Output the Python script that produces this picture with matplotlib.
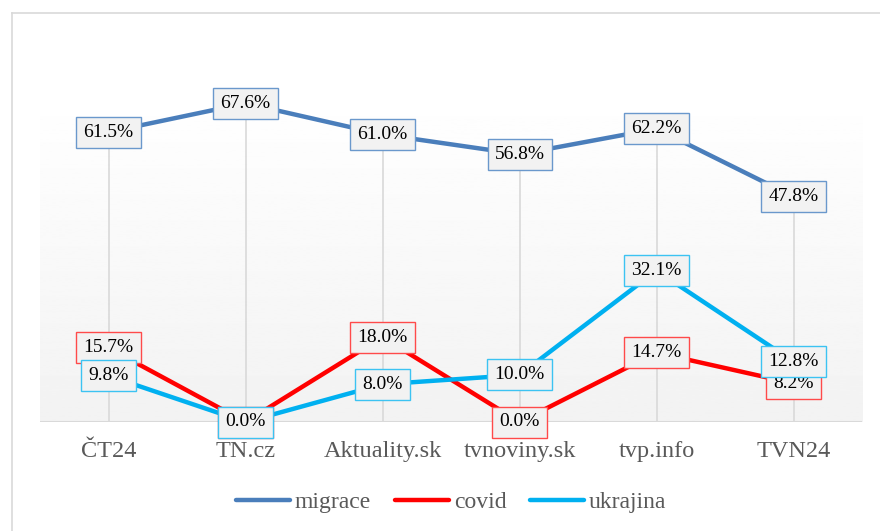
import numpy as np
import matplotlib
matplotlib.use("Agg")
import matplotlib.pyplot as plt
from matplotlib.lines import Line2D

plt.rcParams['font.family'] = ['Liberation Serif', 'DejaVu Serif']

# data
kategorie = ["ČT24", "TN.cz", "Aktuality.sk", "tvnoviny.sk", "tvp.info", "TVN24"]
migrace = [61.5, 67.6, 61.0, 56.8, 62.2, 47.8]
covid = [15.7, 0.0, 18.0, 0.0, 14.7, 8.2]
ukrajina = [9.8, 0.0, 8.0, 10.0, 32.1, 12.8]

serie = [("migrace", migrace, "#4a7ebb", "#6a98cc"),
         ("covid", covid, "#ff0000", "#ff4a4a"),
         ("ukrajina", ukrajina, "#00b0f0", "#3cc3f2")]

fig = plt.figure(figsize=(8.8, 5.31), dpi=100)
ax = fig.add_axes([40/880, 109/531, 822/880, 330/531])

x = np.arange(len(kategorie))
ax.set_xlim(-0.5, len(kategorie) - 0.5)
ax.set_ylim(0, 70)

# pozadi s prechodem
grad = np.linspace(1.0, 0.95, 256).reshape(-1, 1)
ax.imshow(grad, extent=[0, 1, 0, 1], transform=ax.transAxes, cmap="gray",
          vmin=0, vmax=1, aspect="auto", zorder=0)

# spojnice k ose (drop lines)
maxima = [max(a, b, c) for a, b, c in zip(migrace, covid, ukrajina)]
ax.vlines(x, 0, maxima, color="#d9d9d9", lw=1.2, zorder=1)

for s in ax.spines.values():
    s.set_visible(False)
ax.axhline(0, color="#d9d9d9", lw=1.5, zorder=1)

for nazev, vals, barva, okraj in serie:
    ax.plot(x, vals, color=barva, lw=3.2, solid_capstyle="round", zorder=2)

for nazev, vals, barva, okraj in serie:
    for xi, v in zip(x, vals):
        ax.text(xi, v, f"{v:.1f}%", ha="center", va="center", fontsize=14,
                color="black", zorder=3,
                bbox=dict(boxstyle="square,pad=0.36", fc="#f2f2f2", ec=okraj, lw=1))

ax.set_xticks(x)
ax.set_xticklabels(kategorie, fontsize=17.5, color="#595959")
ax.tick_params(axis="x", length=0, pad=14)
ax.set_yticks([])

# ramecek grafu
fig.add_artist(Line2D([11.5/880, 1], [518/531, 518/531], color="#d9d9d9", lw=1.2))
fig.add_artist(Line2D([11.5/880, 11.5/880], [0, 518/531], color="#d9d9d9", lw=1.2))

handles = [Line2D([], [], color=b, lw=3.2, solid_capstyle="round") for _, _, b, _ in serie]
fig.legend(handles, [n for n, _, _, _ in serie], loc="center",
           bbox_to_anchor=(451/880, 29/531), ncol=3, frameon=False,
           fontsize=17, labelcolor="#595959", handlelength=2.3,
           handletextpad=0.2, columnspacing=1.0)

fig.savefig("out.png", dpi=100)
